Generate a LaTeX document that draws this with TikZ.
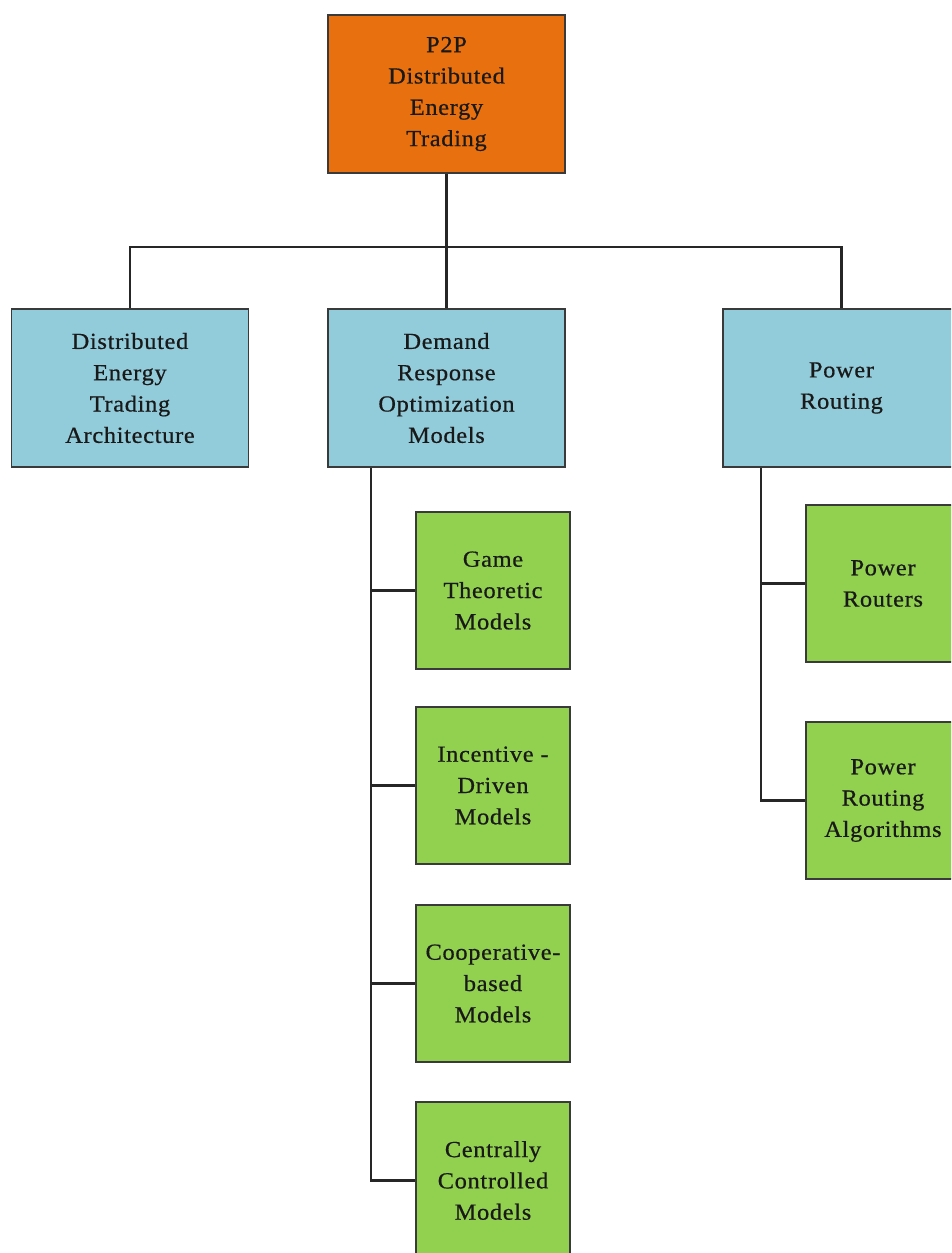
\documentclass[tikz,border=0pt]{standalone}
\usepackage{fontspec}
\setmainfont{Liberation Serif}[LetterSpace=3,FakeStretch=1.06,FakeBold=0.6]
\definecolor{rootc}{HTML}{E8700E}
\definecolor{bluec}{HTML}{92CBDA}
\definecolor{greenc}{HTML}{92D050}
\definecolor{edgec}{HTML}{3A3A3A}
\begin{document}
\begin{tikzpicture}[x=1pt,y=-1pt,
  box/.style={draw=edgec,line width=1.8pt,align=center,inner sep=0pt,
    font=\fontsize{23}{31.3}\selectfont,text=black!90},
  rootbox/.style={box,fill=rootc,minimum width=237pt,minimum height=158pt},
  l1box/.style={box,fill=bluec,minimum width=237pt,minimum height=158pt},
  l2box/.style={box,fill=greenc,minimum width=154pt,minimum height=157pt},
  conn/.style={line width=2.2pt,black!85}]
\useasboundingbox (0,0) rectangle (951,1253);
\clip (0,0) rectangle (951,1253);
\fill[white] (0,0) rectangle (951,1253);
% nodes
\node[rootbox] (p2p) at (446.5,94) {P2P\\Distributed\\Energy\\Trading};
\node[l1box] (deta) at (130,388) {Distributed\\Energy\\Trading\\Architecture};
\node[l1box] (dro) at (446.5,388) {Demand\\Response\\Optimization\\Models};
\node[l1box] (pr) at (841.5,388) {Power\\Routing};
\node[l2box] (game) at (493,590.5) {Game\\Theoretic\\Models};
\node[l2box] (inc) at (493,785.5) {Incentive -\\Driven\\Models};
\node[l2box] (coop) at (493,983.5) {Cooperative-\\based\\Models};
\node[l2box] (cent) at (493,1180.5) {Centrally\\Controlled\\Models};
\node[l2box] (prt) at (883,583.5) {Power\\Routers};
\node[l2box] (pra) at (883,800.5) {Power\\Routing\\Algorithms};
% connectors
\coordinate (bus) at (446.5,247);
\draw[conn] (p2p.south) -- (dro.north);
\draw[conn] (deta.north) -- (deta.north |- bus) -- (pr.north |- bus) -- (pr.north);
\coordinate (s1) at ([xshift=44pt]dro.south west);
\draw[conn] (s1) |- (cent.west);
\draw[conn] (s1 |- game.west) -- (game.west);
\draw[conn] (s1 |- inc.west) -- (inc.west);
\draw[conn] (s1 |- coop.west) -- (coop.west);
\coordinate (s2) at ([xshift=39pt]pr.south west);
\draw[conn] (s2) |- (pra.west);
\draw[conn] (s2 |- prt.west) -- (prt.west);
\end{tikzpicture}
\end{document}
